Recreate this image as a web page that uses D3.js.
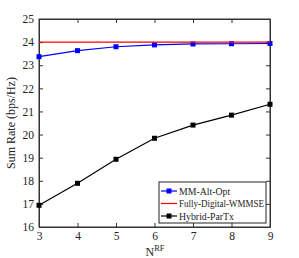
<!DOCTYPE html>
<html>
<head>
<meta charset="UTF-8">
<title></title>
<style>
	body { margin: 0; background: #fff; }
	text { font-family: "Liberation Serif", "DejaVu Serif", serif; }
</style>
</head>
<body>
<script src="https://cdn.jsdelivr.net/npm/d3@7"></script>
<script>
	var nrf = [3, 4, 5, 6, 7, 8, 9];
	var mmAltOpt = [23.37, 23.63, 23.80, 23.88, 23.92, 23.93, 23.94];
	var fullyDigital = [24.0, 24.0, 24.0, 24.0, 24.0, 24.0, 24.0];
	var hybridParTx = [16.94, 17.89, 18.93, 19.84, 20.41, 20.84, 21.31];
	var yTicks = [16, 17, 18, 19, 20, 21, 22, 23, 24, 25];

	var svg = d3.select('body').append('svg')
		.attr('width', 299)
		.attr('height', 258);

	var pLeft = 39, pRight = 270, pTop = 19, pBottom = 227;

	var x = d3.scaleLinear().domain([3, 9]).range([pLeft, pRight]);
	var y = d3.scaleLinear().domain([16, 25]).range([pBottom, pTop]);

	// frame
	svg.append('rect')
		.attr('x', pLeft).attr('y', pTop)
		.attr('width', pRight - pLeft).attr('height', pBottom - pTop)
		.attr('fill', 'none').attr('stroke', '#333').attr('stroke-width', 1);

	var xAxis = svg.append('g')
		.attr('transform', 'translate(0,' + pBottom + ')')
		.call(d3.axisBottom(x).tickValues(nrf).tickFormat(d3.format('d')).tickSizeInner(-4).tickSizeOuter(0).tickPadding(5));
	var xAxisTop = svg.append('g')
		.attr('transform', 'translate(0,' + pTop + ')')
		.call(d3.axisTop(x).tickValues(nrf).tickFormat('').tickSizeInner(-4).tickSizeOuter(0));
	var yAxis = svg.append('g')
		.attr('transform', 'translate(' + pLeft + ',0)')
		.call(d3.axisLeft(y).tickValues(yTicks).tickFormat(d3.format('d')).tickSizeInner(-4).tickSizeOuter(0).tickPadding(5));
	var yAxisRight = svg.append('g')
		.attr('transform', 'translate(' + pRight + ',0)')
		.call(d3.axisRight(y).tickValues(yTicks).tickFormat('').tickSizeInner(-4).tickSizeOuter(0));

	[xAxis, xAxisTop, yAxis, yAxisRight].forEach(function(a) {
		a.select('.domain').attr('stroke', '#333');
		a.selectAll('.tick line').attr('stroke', '#333');
		a.selectAll('text').attr('font-size', 11.5).attr('fill', '#222')
			.style('font-family', '"Liberation Serif", serif');
	});

	var line = d3.line()
		.x(function(d, i) { return x(nrf[i]); })
		.y(function(d) { return y(d); });

	var series = [
		{ name: 'MM-Alt-Opt', values: mmAltOpt, color: '#0000ff', marker: true },
		{ name: 'Fully-Digital-WMMSE', values: fullyDigital, color: '#ff0000', marker: false },
		{ name: 'Hybrid-ParTx', values: hybridParTx, color: '#000000', marker: true }
	];

	// red sits on top of blue in the picture
	[series[2], series[0], series[1]].forEach(function(s) {
		svg.append('path')
			.datum(s.values)
			.attr('d', line)
			.attr('fill', 'none')
			.attr('stroke', s.color)
			.attr('stroke-width', 1.2);
		if (s.marker) {
			svg.selectAll(null)
				.data(s.values)
				.enter()
				.append('rect')
				.attr('x', function(d, i) { return x(nrf[i]) - 2.5; })
				.attr('y', function(d) { return y(d) - 2.5; })
				.attr('width', 5).attr('height', 5)
				.attr('fill', s.color);
		}
	});

	// legend
	var lg = svg.append('g').attr('transform', 'translate(159,182)');
	lg.append('rect')
		.attr('width', 107).attr('height', 41)
		.attr('fill', '#fff').attr('stroke', '#222').attr('stroke-width', 1);
	series.forEach(function(s, i) {
		var yy = 9 + i * 12.5;
		lg.append('line')
			.attr('x1', 2).attr('x2', 18).attr('y1', yy).attr('y2', yy)
			.attr('stroke', s.color).attr('stroke-width', 1.2);
		if (s.marker) {
			lg.append('rect')
				.attr('x', 7.5).attr('y', yy - 2.5).attr('width', 5).attr('height', 5)
				.attr('fill', s.color);
		}
		var t = lg.append('text')
			.attr('x', 20).attr('y', yy + 3.5)
			.attr('font-size', 9.8).attr('fill', '#222')
			.text(s.name);
		// squeeze the long label so it stays inside the box
		if (t.node().getComputedTextLength() > 85) {
			t.attr('textLength', 85).attr('lengthAdjust', 'spacingAndGlyphs');
		}
	});

	// axis labels
	svg.append('text')
		.attr('transform', 'translate(15,' + ((pTop + pBottom) / 2) + ') rotate(-90)')
		.attr('text-anchor', 'middle')
		.attr('font-size', 12).attr('fill', '#222')
		.text('Sum Rate (bps/Hz)');

	var xl = svg.append('text')
		.attr('x', 155).attr('y', 256)
		.attr('text-anchor', 'middle')
		.attr('font-size', 12).attr('fill', '#222');
	xl.append('tspan').text('N');
	xl.append('tspan').attr('dy', -5).attr('font-size', 8.5).text('RF');
</script>
</body>
</html>
